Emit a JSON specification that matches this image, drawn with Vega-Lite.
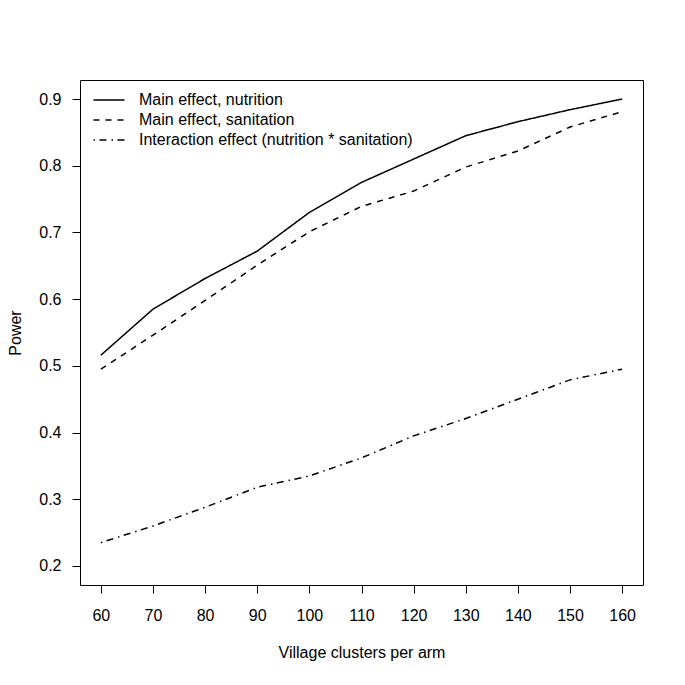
{
  "$schema": "https://vega.github.io/schema/vega-lite/v6.json",
  "width": 563,
  "height": 505,
  "autosize": {"type": "none"},
  "padding": {"left": 80, "top": 80, "right": 42, "bottom": 100},
  "background": "white",
  "config": {
    "font": "Liberation Sans",
    "view": {"stroke": "black", "strokeWidth": 1},
    "axis": {"domain": false, "grid": false, "tickColor": "black", "tickSize": 8, "tickWidth": 1, "labelColor": "black", "labelFontSize": 16, "titleFontSize": 16, "titleFontWeight": "normal", "titleColor": "black", "labelFont": "Liberation Sans", "titleFont": "Liberation Sans"}
  },
  "data": {
    "values": [
      {"n": 60, "power": 0.516, "series": "Main effect, nutrition"},
      {"n": 70, "power": 0.585, "series": "Main effect, nutrition"},
      {"n": 80, "power": 0.631, "series": "Main effect, nutrition"},
      {"n": 90, "power": 0.672, "series": "Main effect, nutrition"},
      {"n": 100, "power": 0.730, "series": "Main effect, nutrition"},
      {"n": 110, "power": 0.775, "series": "Main effect, nutrition"},
      {"n": 120, "power": 0.810, "series": "Main effect, nutrition"},
      {"n": 130, "power": 0.845, "series": "Main effect, nutrition"},
      {"n": 140, "power": 0.866, "series": "Main effect, nutrition"},
      {"n": 150, "power": 0.884, "series": "Main effect, nutrition"},
      {"n": 160, "power": 0.900, "series": "Main effect, nutrition"},
      {"n": 60, "power": 0.495, "series": "Main effect, sanitation"},
      {"n": 70, "power": 0.546, "series": "Main effect, sanitation"},
      {"n": 80, "power": 0.598, "series": "Main effect, sanitation"},
      {"n": 90, "power": 0.651, "series": "Main effect, sanitation"},
      {"n": 100, "power": 0.701, "series": "Main effect, sanitation"},
      {"n": 110, "power": 0.739, "series": "Main effect, sanitation"},
      {"n": 120, "power": 0.762, "series": "Main effect, sanitation"},
      {"n": 130, "power": 0.798, "series": "Main effect, sanitation"},
      {"n": 140, "power": 0.822, "series": "Main effect, sanitation"},
      {"n": 150, "power": 0.858, "series": "Main effect, sanitation"},
      {"n": 160, "power": 0.881, "series": "Main effect, sanitation"},
      {"n": 60, "power": 0.235, "series": "Interaction effect (nutrition * sanitation)"},
      {"n": 70, "power": 0.260, "series": "Interaction effect (nutrition * sanitation)"},
      {"n": 80, "power": 0.288, "series": "Interaction effect (nutrition * sanitation)"},
      {"n": 90, "power": 0.318, "series": "Interaction effect (nutrition * sanitation)"},
      {"n": 100, "power": 0.335, "series": "Interaction effect (nutrition * sanitation)"},
      {"n": 110, "power": 0.362, "series": "Interaction effect (nutrition * sanitation)"},
      {"n": 120, "power": 0.395, "series": "Interaction effect (nutrition * sanitation)"},
      {"n": 130, "power": 0.421, "series": "Interaction effect (nutrition * sanitation)"},
      {"n": 140, "power": 0.450, "series": "Interaction effect (nutrition * sanitation)"},
      {"n": 150, "power": 0.479, "series": "Interaction effect (nutrition * sanitation)"},
      {"n": 160, "power": 0.495, "series": "Interaction effect (nutrition * sanitation)"}
    ]
  },
  "mark": {"type": "line", "color": "black", "strokeWidth": 1.5},
  "encoding": {
    "x": {
      "field": "n", "type": "quantitative",
      "scale": {"domain": [56, 164], "nice": false, "zero": false},
      "axis": {"values": [60, 70, 80, 90, 100, 110, 120, 130, 140, 150, 160], "title": "Village clusters per arm", "labelPadding": 14, "titlePadding": 21}
    },
    "y": {
      "field": "power", "type": "quantitative",
      "scale": {"domain": [0.1715, 0.9285], "nice": false, "zero": false},
      "axis": {"values": [0.2, 0.3, 0.4, 0.5, 0.6, 0.7, 0.8, 0.9], "format": ".1f", "title": "Power", "labelPadding": 11, "titlePadding": 15}
    },
    "strokeDash": {
      "field": "series", "type": "nominal",
      "scale": {
        "domain": ["Main effect, nutrition", "Main effect, sanitation", "Interaction effect (nutrition * sanitation)"],
        "range": [[1, 0], [6, 6], [1.5, 4.5, 7, 5]]
      },
      "legend": {
        "title": null, "orient": "none", "legendX": 21, "legendY": 12,
        "symbolType": "M-3.1,0L3.1,0", "symbolSize": 100, "symbolStrokeWidth": 1.5, "symbolStrokeColor": "black", "symbolFillColor": "transparent",
        "labelFontSize": 16, "labelColor": "black", "labelFont": "Liberation Sans", "labelOffset": 22, "labelLimit": 500, "rowPadding": 4
      }
    }
  }
}
